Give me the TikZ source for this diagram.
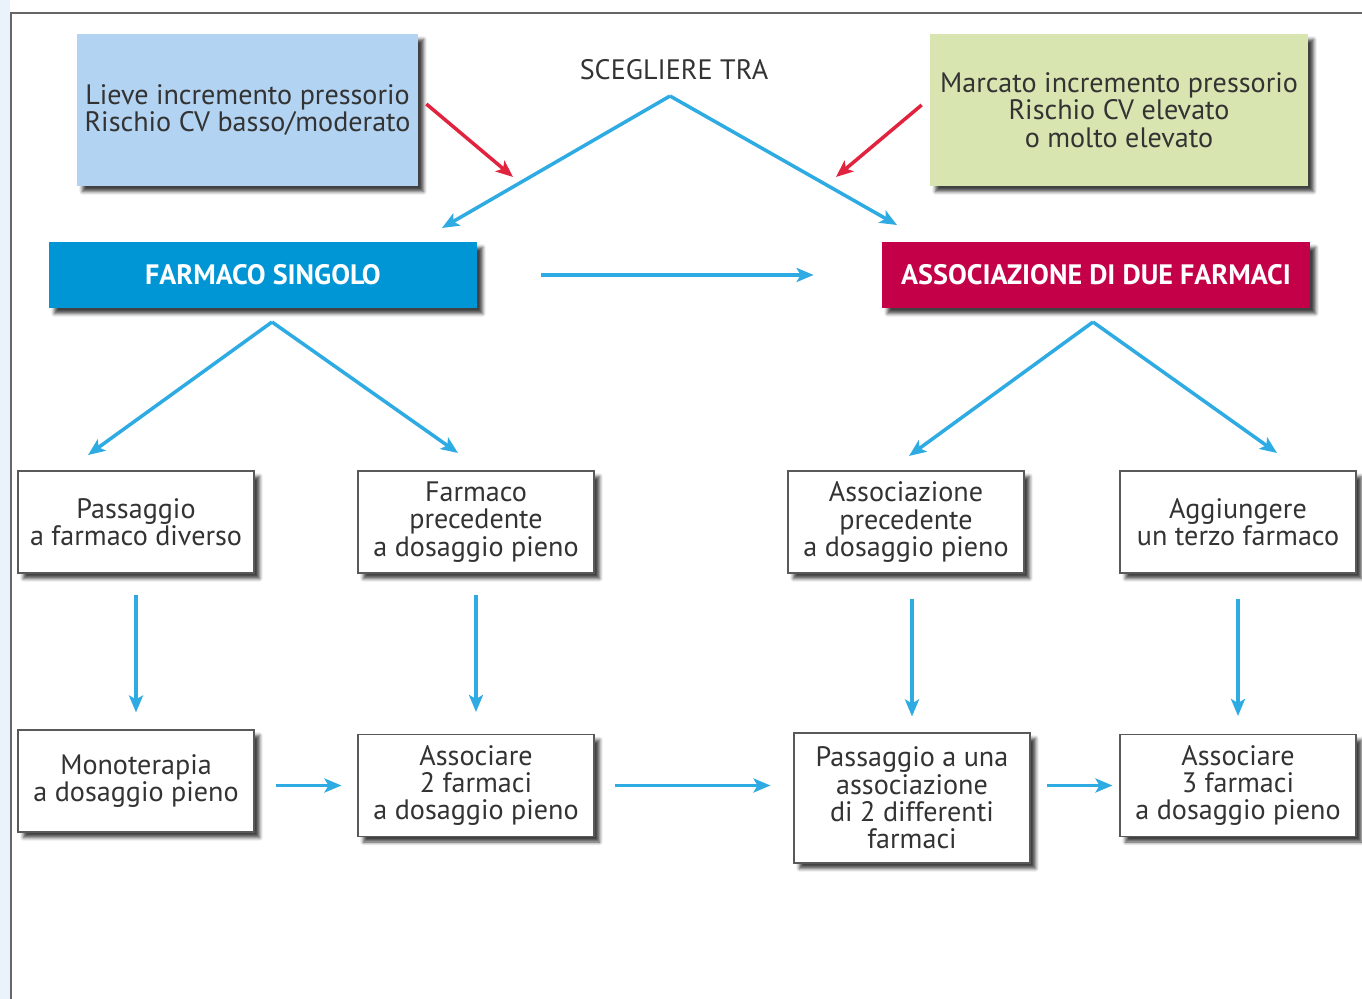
\documentclass[tikz,border=0pt]{standalone}
\usepackage{fontspec}
\setmainfont{PT Sans}
\usepackage{tikz}
\usetikzlibrary{arrows.meta,positioning,shadows.blur,calc}
\definecolor{arrblue}{HTML}{2EABE2}
\definecolor{arrred}{HTML}{E2233F}
\definecolor{boxblue}{HTML}{B2D3F1}
\definecolor{boxgreen}{HTML}{D8E5B0}
\definecolor{hdblue}{HTML}{0096D6}
\definecolor{hdred}{HTML}{C40048}
\definecolor{txt}{HTML}{333333}
\definecolor{pagebg}{HTML}{EAF3FC}
\newcommand{\bodyfont}{\fontsize{16}{15.6}\selectfont}
\tikzset{
  shd/.style={blur shadow={shadow xshift=1.1mm, shadow yshift=-1.1mm, shadow blur steps=6, shadow opacity=75}},
  arr/.style={draw=arrblue, line width=2pt, -{Stealth[length=3.4mm, width=2.8mm, inset=0.8mm]}},
  redarr/.style={arr, draw=arrred},
  cond/.style={shd, align=center, text=txt, font=\bodyfont, minimum height=30.4mm, inner sep=0pt},
  head/.style={shd, align=center, text=white, font=\bodyfont\bfseries, minimum width=85.6mm, minimum height=13.2mm},
  stepbox/.style={shd, draw=gray!70!black, line width=0.6pt, fill=white, align=center, text=txt,
    font=\bodyfont, minimum width=47.2mm, minimum height=20.4mm, inner sep=0pt}
}
\begin{document}
\begin{tikzpicture}[x=0.2mm, y=-0.2mm]
\useasboundingbox (0,0) rectangle (1362,999);
\fill[pagebg] (0,0) rectangle (10,999);
\draw[gray!80!black, line width=0.6pt] (1362,13) -- (11,13) -- (11,999);

% starting conditions
\node[cond, fill=boxblue, minimum width=68.2mm] (lieve) at (247.5,110)
  {Lieve incremento pressorio\\Rischio CV basso/moderato};
\node[cond, fill=boxgreen, minimum width=75.6mm] (marc) at (1119,110)
  {Marcato incremento pressorio\\Rischio CV elevato\\o molto elevato};
\node[text=txt, font=\bodyfont] (scg) at (674,70) {SCEGLIERE TRA};

% choices
\node[head, fill=hdblue] (sing) at (263,275) {FARMACO SINGOLO};
\node[head, fill=hdred] (assoc) at (1096,275) {ASSOCIAZIONE DI DUE FARMACI};

% first step
\node[stepbox] (pass) at (136,522) {Passaggio\\a farmaco diverso};
\node[stepbox] (fprec) at (476,522) {Farmaco\\precedente\\a dosaggio pieno};
\node[stepbox] (aprec) at (906,522) {Associazione\\precedente\\a dosaggio pieno};
\node[stepbox] (aggi) at (1238,522) {Aggiungere\\un terzo farmaco};

% second step
\node[stepbox] (mono) at (136,781) {Monoterapia\\a dosaggio pieno};
\node[stepbox] (ass2) at (476,785.5) {Associare\\2 farmaci\\a dosaggio pieno};
\node[stepbox, minimum height=26mm] (passu) at (912,798) {Passaggio a una\\associazione\\di 2 differenti\\farmaci};
\node[stepbox] (ass3) at (1238,785.5) {Associare\\3 farmaci\\a dosaggio pieno};

% branching points
\coordinate (apex) at (670,96);
\coordinate (singtip) at (442,228);
\coordinate (assoctip) at (897,225);
\coordinate (lievetip) at (513,177);
\coordinate (marctip) at (836,177);
\coordinate (singapex) at (272,322);
\coordinate (assocapex) at (1093,322);
\coordinate (passtip) at (88,455);
\coordinate (fprectip) at (458,453);
\coordinate (aprectip) at (909,456);
\coordinate (aggitip) at (1277,453);

\draw[arr] (apex) -- (singtip);
\draw[arr] (apex) -- (assoctip);
\draw[redarr] (lieve.east |- 0,104) ++(8,0) -- (lievetip);
\draw[redarr] (marc.west |- 0,105) ++(-8,0) -- (marctip);
\draw[arr, shorten <=12.8mm, shorten >=13.6mm] (sing.east) -- (assoc.west);

\draw[arr] (singapex) -- (passtip);
\draw[arr] (singapex) -- (fprectip);
\draw[arr] (assocapex) -- (aprectip);
\draw[arr] (assocapex) -- (aggitip);

\draw[arr, shorten <=4.2mm, shorten >=3.4mm] (pass.south) -- (mono.north);
\draw[arr, shorten <=4.2mm, shorten >=4.4mm] (fprec.south) -- (ass2.north);
\draw[arr, shorten <=5mm, shorten >=3.2mm] (aprec.south -| passu.north) -- (passu.north);
\draw[arr, shorten <=5mm, shorten >=3.6mm] (aggi.south) -- (ass3.north);

\draw[arr, shorten <=4.2mm, shorten >=3.2mm] (mono.east |- ass2.west) -- (ass2.west);
\draw[arr, shorten <=4mm, shorten >=4.6mm] (ass2.east) -- (passu.west |- ass2.east);
\draw[arr, shorten <=3.2mm, shorten >=1.4mm] (passu.east |- ass3.west) -- (ass3.west);
\end{tikzpicture}
\end{document}
